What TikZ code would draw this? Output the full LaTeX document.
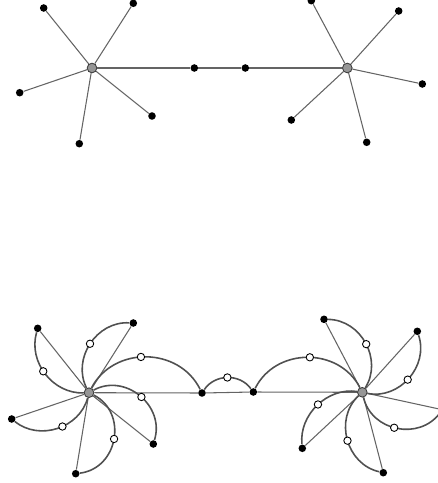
\documentclass[tikz,border=0pt]{standalone}
\usepackage{tikz}
\usetikzlibrary{positioning}
\definecolor{GrisLinea}{RGB}{100,100,100}
\definecolor{GrisArco}{RGB}{80,80,80}
\definecolor{GrisNodo}{RGB}{150,150,150}
\definecolor{GrisBorde}{RGB}{60,60,60}
\tikzset{
  hojadot/.style={circle, fill=black, inner sep=0pt, minimum size=4.3pt},
  centrodot/.style={circle, draw=GrisBorde, fill=GrisNodo, line width=0.5pt,
    inner sep=0pt, minimum size=5.5pt},
  subdot/.style={circle, draw=black, fill=white, line width=0.5pt,
    inner sep=0pt, minimum size=4.2pt},
  recta/.style={line width=0.6pt, GrisLinea},
  arco/.style={line width=0.9pt, GrisArco},
}
\begin{document}
\begin{tikzpicture}[x=0.02cm, y=-0.02cm]
  \useasboundingbox (0,0) rectangle (438,483);
  \clip (0,0) rectangle (438,483);
  % ---- grafo de arriba ----
  \node[centrodot] (cA) at (92,68) {};
  \node[centrodot] (cB) at (347.3,68) {};
  \node[hojadot] (a1) at (43.7,8) {};
  \node[hojadot] (a2) at (133.3,3.3) {};
  \node[hojadot] (a3) at (19.7,92.7) {};
  \node[hojadot] (a4) at (152,116) {};
  \node[hojadot] (a5) at (79.3,143.7) {};
  \node[hojadot] (m1) at (194.3,68) {};
  \node[hojadot] (m2) at (245.3,68) {};
  \node[hojadot] (b1) at (311.3,0.7) {};
  \node[hojadot] (b2) at (398.7,11) {};
  \node[hojadot] (b3) at (422.3,84) {};
  \node[hojadot] (b4) at (291.3,120) {};
  \node[hojadot] (b5) at (366.7,142.3) {};
  \draw[recta] (cA) -- (a1);
  \draw[recta] (cA) -- (a2);
  \draw[recta] (cA) -- (a3);
  \draw[recta] (cA) -- (a4);
  \draw[recta] (cA) -- (a5);
  \draw[recta] (cA) -- (m1);
  \draw[recta] (m1) -- (m2);
  \draw[recta] (m2) -- (cB);
  \draw[recta] (cB) -- (b1);
  \draw[recta] (cB) -- (b2);
  \draw[recta] (cB) -- (b3);
  \draw[recta] (cB) -- (b4);
  \draw[recta] (cB) -- (b5);
  % ---- grafo de abajo ----
  \node[centrodot] (cC) at (89,392.7) {};
  \node[centrodot] (cD) at (362.3,392.3) {};
  \node[hojadot] (c1) at (37.7,328.3) {};
  \node[hojadot] (c2) at (133.3,323) {};
  \node[hojadot] (c3) at (153.3,444) {};
  \node[hojadot] (c4) at (75.7,473.7) {};
  \node[hojadot] (c5) at (11.7,419) {};
  \node[hojadot] (p1) at (202,393) {};
  \node[hojadot] (p2) at (253.3,392) {};
  \node[hojadot] (d1) at (324,319.3) {};
  \node[hojadot] (d2) at (417.3,331.3) {};
  \node[hojadot] (d3) at (442.4,409.7) {};
  \node[hojadot] (d4) at (383.3,472.7) {};
  \node[hojadot] (d5) at (302.3,448.3) {};
  \draw[recta] (cC) -- (c1);
  \draw[recta] (cC) -- (c2);
  \draw[recta] (cC) -- (c3);
  \draw[recta] (cC) -- (c4);
  \draw[recta] (cC) -- (c5);
  \draw[recta] (cC) -- (p1);
  \draw[recta] (p1) -- (p2);
  \draw[recta] (p2) -- (cD);
  \draw[recta] (cD) -- (d1);
  \draw[recta] (cD) -- (d2);
  \draw[recta] (cD) -- (d3);
  \draw[recta] (cD) -- (d4);
  \draw[recta] (cD) -- (d5);
  % arcos con su nodo blanco
  \draw[arco] (cC) to[bend left=54, looseness=1.03] node[subdot, pos=0.54] (s1) {} (c1);
  \draw[arco] (cC) to[bend left=60, looseness=1.08] node[subdot, pos=0.5] (s2) {} (c2);
  \draw[arco] (cC) to[bend left=63, looseness=1.12] node[subdot, pos=0.46] (s3) {} (p1);
  \draw[arco] (cC) to[bend left=68, looseness=1.17] node[subdot, pos=0.52] (s4) {} (c3);
  \draw[arco] (cC) to[bend left=73, looseness=1.25] node[subdot, pos=0.5] (s5) {} (c4);
  \draw[arco] (cC) to[bend left=57, looseness=1.05] node[subdot, pos=0.44] (s6) {} (c5);
  \draw[arco] (p1) to[bend left=55, looseness=1.04] node[subdot, pos=0.5] (s7) {} (p2);
  \draw[arco] (cD) to[bend right=63, looseness=1.12] node[subdot, pos=0.48] (s8) {} (p2);
  \draw[arco] (cD) to[bend right=61, looseness=1.09] node[subdot, pos=0.49] (s9) {} (d1);
  \draw[arco] (cD) to[bend right=60, looseness=1.08] node[subdot, pos=0.48] (s10) {} (d2);
  \draw[arco] (cD) to[bend right=65, looseness=1.14] node[subdot, pos=0.47] (s11) {} (d3);
  \draw[arco] (cD) to[bend right=62, looseness=1.10] node[subdot, pos=0.51] (s12) {} (d4);
  \draw[arco] (cD) to[bend right=52, looseness=1.00] node[subdot, pos=0.49] (s13) {} (d5);
\end{tikzpicture}
\end{document}
